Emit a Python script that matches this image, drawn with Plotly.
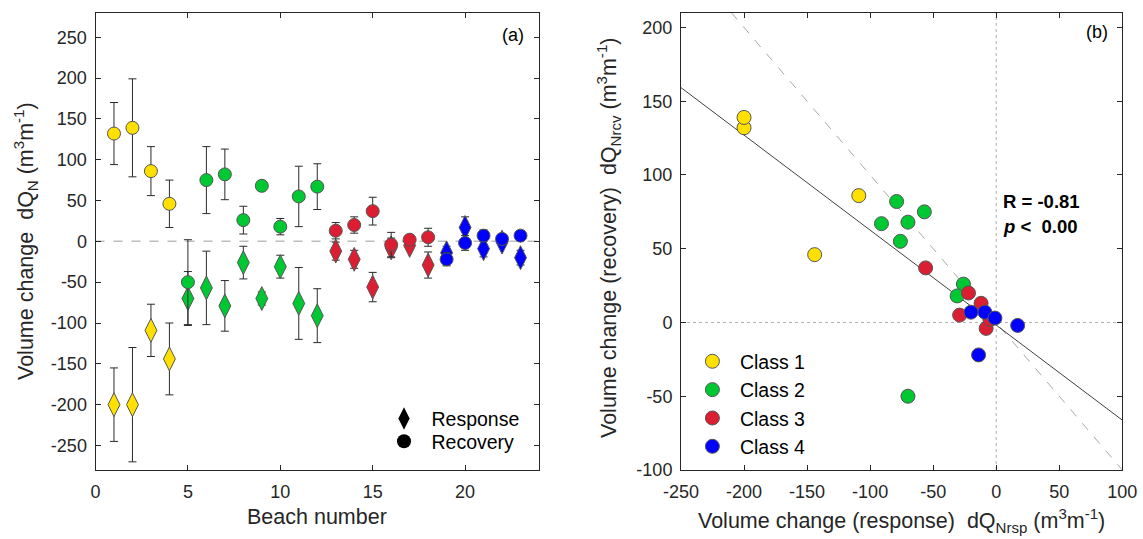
import plotly.graph_objects as go

W, H = 1143, 539

# ---------------- data ----------------
beach = list(range(1, 24))
response = [-200, -200, -109, -144, -70, -57, -79, -26, -70, -31, -76, -91,
            -12, -22, -56, -8, -5, -29, -14, 17, -9, -1, -20]
response_err = [45, 70, 32, 44, 33, 45, 31, 20, 8, 14, 44, 33,
                11, 11, 18, 12, 4, 16, 8, 13, 10, 4, 9]
recovery = [132, 139, 86, 46, -50, 75, 82, 26, 68, 18, 55, 67,
            13, 20, 37, -4, 2, 5, -22, -2, 7, 3, 7]
recovery_err = [38, 60, 30, 29, 52, 41, 31, 17, 6, 10, 37, 28,
                10, 10, 17, 15, 5, 11, 8, 9, 7, 5, 6]
beach_class = [1] * 4 + [2] * 8 + [3] * 6 + [4] * 5
class_ids = [1, 2, 3, 4]
class_names = ["Class 1", "Class 2", "Class 3", "Class 4"]
class_colors = ["#FFE000", "#00C832", "#DC1E32", "#0000FF"]

fit_slope = -0.644
fit_intercept = -1.8
r_label = "R = -0.81"
p_label = "0.00"

xa_range = [0, 24]
ya_range = [-280, 280]
xa_ticks = [0, 5, 10, 15, 20]
ya_ticks = [-250, -200, -150, -100, -50, 0, 50, 100, 150, 200, 250]
xb_range = [-250, 100]
yb_range = [-100, 210]
xb_ticks = [-250, -200, -150, -100, -50, 0, 50, 100]
yb_ticks = [-100, -50, 0, 50, 100, 150, 200]

# ---------------- helpers ----------------
FONT = "Liberation Sans, Arial, sans-serif"
TXT = "#262626"
EDGE = "#555555"
ERR = "#2a2a2a"


def px(x):
    return x / W


def py(y):
    return 1 - y / H


fig = go.Figure()

# ---------------- panel (a) ----------------
for cid, col in zip(class_ids, class_colors):
    idx = [i for i, c in enumerate(beach_class) if c == cid]
    fig.add_trace(go.Scatter(
        x=[beach[i] for i in idx], y=[response[i] for i in idx],
        mode="markers", xaxis="x", yaxis="y", showlegend=False,
        marker=dict(symbol="diamond-tall", size=17, color=col,
                    line=dict(color=EDGE, width=1)),
        error_y=dict(type="data", array=[response_err[i] for i in idx],
                     color=ERR, thickness=1, width=4),
    ))
for cid, col in zip(class_ids, class_colors):
    idx = [i for i, c in enumerate(beach_class) if c == cid]
    fig.add_trace(go.Scatter(
        x=[beach[i] for i in idx], y=[recovery[i] for i in idx],
        mode="markers", xaxis="x", yaxis="y", showlegend=False,
        marker=dict(symbol="circle", size=13, color=col,
                    line=dict(color=EDGE, width=1)),
        error_y=dict(type="data", array=[recovery_err[i] for i in idx],
                     color=ERR, thickness=1, width=4),
    ))

# legend entries for (a)
fig.add_trace(go.Scatter(x=[None], y=[None], mode="markers", name="Response",
                         xaxis="x", yaxis="y", legend="legend2",
                         marker=dict(symbol="diamond-tall", size=16, color="black")))
fig.add_trace(go.Scatter(x=[None], y=[None], mode="markers", name="Recovery",
                         xaxis="x", yaxis="y", legend="legend3",
                         marker=dict(symbol="circle", size=14, color="black")))

# ---------------- panel (b) ----------------
one_to_one_x = [-yb_range[1], -yb_range[0]]
fig.add_trace(go.Scatter(
    x=one_to_one_x, y=[-v for v in one_to_one_x],
    mode="lines", xaxis="x2", yaxis="y2", showlegend=False,
    line=dict(color="#a8a8a8", width=1, dash="dash"), hoverinfo="skip"))
fig.add_trace(go.Scatter(
    x=xb_range, y=[fit_slope * v + fit_intercept for v in xb_range],
    mode="lines", xaxis="x2", yaxis="y2", showlegend=False,
    line=dict(color="#404040", width=1), hoverinfo="skip"))

for cid, name, col in zip(class_ids, class_names, class_colors):
    idx = [i for i, c in enumerate(beach_class) if c == cid]
    fig.add_trace(go.Scatter(
        x=[response[i] for i in idx], y=[recovery[i] for i in idx],
        mode="markers", xaxis="x2", yaxis="y2", name=name, legend="legend",
        marker=dict(symbol="circle", size=14, color=col,
                    line=dict(color=EDGE, width=1)),
    ))

# ---------------- axes ----------------
ax_common = dict(showline=True, linecolor=TXT, linewidth=1, mirror="ticks",
                 ticks="inside", ticklen=5, tickcolor=TXT, tickwidth=1,
                 showgrid=False, zeroline=False, automargin=False,
                 tickfont=dict(family=FONT, size=18, color=TXT))


def tt(vals):
    return [str(v) for v in vals]


dom_y = [py(470), py(12.7)]
fig.update_layout(
    xaxis=dict(domain=[px(95.5), px(539)], range=xa_range, tickvals=xa_ticks,
               ticktext=tt(xa_ticks), anchor="y", ticklabelstandoff=5, **ax_common),
    yaxis=dict(domain=dom_y, range=ya_range, tickvals=ya_ticks,
               ticktext=tt(ya_ticks), anchor="x", ticklabelstandoff=4, **ax_common),
    xaxis2=dict(domain=[px(681), px(1122.3)], range=xb_range, tickvals=xb_ticks,
                ticktext=tt(xb_ticks), anchor="y2", ticklabelstandoff=5, **ax_common),
    yaxis2=dict(domain=dom_y, range=yb_range, tickvals=yb_ticks,
                ticktext=tt(yb_ticks), anchor="x2", ticklabelstandoff=4, **ax_common),
)

# reference lines
fig.add_shape(type="line", xref="x", yref="y", x0=xa_range[0], x1=xa_range[1],
              y0=0, y1=0, line=dict(color="#bdbdbd", width=1.5, dash="dash"),
              layer="below")
fig.add_shape(type="line", xref="x2", yref="y2", x0=xb_range[0], x1=xb_range[1],
              y0=0, y1=0, line=dict(color="#b0b0b0", width=1, dash="dot"),
              layer="below")
fig.add_shape(type="line", xref="x2", yref="y2", x0=0, x1=0,
              y0=yb_range[0], y1=yb_range[1],
              line=dict(color="#b0b0b0", width=1, dash="dot"), layer="below")

# ---------------- legends ----------------
leg_font = dict(family=FONT, size=19.5, color="black")
fig.update_layout(
    legend=dict(x=px(684.9), y=py(342.1), xanchor="left", yanchor="top",
                font=leg_font, itemwidth=45, bgcolor="rgba(0,0,0,0)",
                tracegroupgap=0),
    legend2=dict(x=px(376.5), y=py(399.3), xanchor="left", yanchor="top",
                 font=leg_font, itemwidth=45, bgcolor="rgba(0,0,0,0)"),
    legend3=dict(x=px(376.5), y=py(422.1), xanchor="left", yanchor="top",
                 font=leg_font, itemwidth=45, bgcolor="rgba(0,0,0,0)"),
)

# ---------------- text ----------------
ann = []
title_font = dict(family=FONT, size=21.5, color=TXT)
ann.append(dict(text="Volume change\u00a0 dQ<sub>N</sub> (m<sup>3</sup>m<sup>-1</sup>)",
                x=px(25), y=py(241), textangle=-90, font=title_font))
ann.append(dict(text="Beach number", x=px(316.7), y=py(517), font=title_font))
ann.append(dict(text="Volume change (recovery)\u00a0 dQ<sub>Nrcv</sub> (m<sup>3</sup>m<sup>-1</sup>)",
                x=px(609), y=py(238), textangle=-90, font=title_font))
ann.append(dict(text="Volume change (response)\u00a0 dQ<sub>Nrsp</sub> (m<sup>3</sup>m<sup>-1</sup>)",
                x=px(901.5), y=py(520), font=title_font))
ann.append(dict(text="(a)", x=px(513), y=py(35), font=dict(family=FONT, size=18, color="black")))
ann.append(dict(text="(b)", x=px(1097), y=py(32), font=dict(family=FONT, size=18, color="black")))
ann.append(dict(text="<b>" + r_label + "</b>", x=px(1001), y=py(201.7), xanchor="left",
                font=dict(family=FONT, size=18.5, color="black")))
ann.append(dict(text="<b><i>p</i> &lt;\u00a0 " + p_label + "</b>", x=px(1001), y=py(226.7),
                xanchor="left", font=dict(family=FONT, size=18.5, color="black")))
for a in ann:
    a.setdefault("xref", "paper")
    a.setdefault("yref", "paper")
    a.setdefault("showarrow", False)
    a.setdefault("xanchor", "center")
    a.setdefault("yanchor", "middle")

fig.update_layout(
    annotations=ann,
    width=W, height=H,
    margin=dict(l=0, r=0, t=0, b=0, pad=0, autoexpand=False),
    paper_bgcolor="white", plot_bgcolor="white",
    font=dict(family=FONT, color=TXT),
    showlegend=True,
)

fig.write_html(
    "out.html",
    config={"displayModeBar": False},
    post_script="document.body.style.margin='0px';document.body.style.overflow='hidden';",
)
